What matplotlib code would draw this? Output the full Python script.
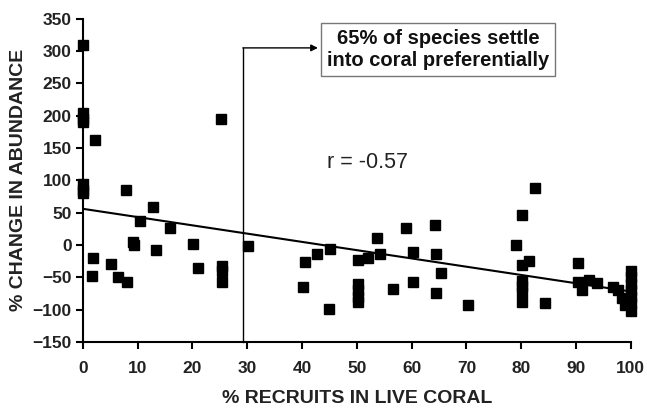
import matplotlib.pyplot as plt

plt.rcParams['font.family'] = ['Liberation Sans', 'DejaVu Sans']

# 数据: % recruits in live coral vs % change in abundance
recruits = [0, 0, 0, 0, 0, 0, 0, 2.2, 1.9, 1.7, 5.1, 6.4, 8.0, 7.8, 9.1, 9.3,
            10.4, 12.8, 13.3, 16.0, 20.1, 21.0, 25.3, 25.4, 25.4, 25.4, 30.1,
            40.1, 40.5, 42.7, 45.1, 45.0, 50.2, 50.2, 50.2, 50.2, 50.2, 52.0,
            53.7, 54.2, 56.6, 59.0, 60.2, 60.2, 64.2, 64.4, 65.3, 64.4, 70.2,
            79.0, 80.1, 80.1, 81.4, 82.5, 80.1, 80.1, 80.1, 80.1, 84.3,
            90.3, 90.3, 91.0, 92.4, 93.8, 96.7, 97.6, 98.4, 99.0,
            100, 100, 100, 100, 100, 100, 100]
change = [310, 205, 195, 190, 95, 85, 80, 162, -20, -48, -30, -49, -58, 85, 5, 0,
          37, 59, -8, 26, 2, -36, 195, -32, -40, -58, -2,
          -65, -26, -14, -6, -99, -23, -60, -70, -80, -88, -20,
          11, -14, -68, 26, -11, -57, 31, -14, -43, -74, -93,
          0, 46, -31, -25, 88, -55, -64, -72, -88, -90,
          -28, -57, -70, -54, -59, -65, -70, -82, -93,
          -40, -50, -60, -70, -80, -90, -102]

# 回归线
line_x = [0, 100]
line_y = [56, -72]

fig = plt.figure(figsize=(6.47, 4.09), dpi=100)
ax = fig.add_axes([0.128, 0.164, 0.847, 0.79])

ax.plot(recruits, change, 's', color='black', ms=6.5, clip_on=False, zorder=3)
ax.plot(line_x, line_y, color='black', lw=1.5)

ax.set_xlim(0, 100)
ax.set_ylim(-150, 350)
ax.set_xticks(range(0, 101, 10))
ax.set_yticks(range(-150, 351, 50))
for s in ['top', 'right']:
    ax.spines[s].set_visible(False)
for s in ['left', 'bottom']:
    ax.spines[s].set_linewidth(1.5)
ax.tick_params(axis='both', direction='out', length=5, width=1.5, labelsize=12.5)
ax.tick_params(axis='x', pad=9)
ax.tick_params(axis='y', pad=3)
for lab in ax.get_xticklabels() + ax.get_yticklabels():
    lab.set_fontweight('bold')
    lab.set_color('#222222')

ax.set_xlabel('% RECRUITS IN LIVE CORAL', fontsize=14, fontweight='bold',
              color='#222222', labelpad=10)
ax.set_ylabel('% CHANGE IN ABUNDANCE', fontsize=14, fontweight='bold',
              color='#222222', labelpad=4)

# 65% 标注
ax.plot([29.3, 29.3], [-150, 305], color='black', lw=1, clip_on=False)
ax.annotate('', xy=(42.9, 305), xytext=(29.2, 305),
            arrowprops=dict(arrowstyle='-|>', lw=1, color='black',
                            mutation_scale=10, shrinkA=0, shrinkB=0),
            annotation_clip=False)
ax.text(64.8, 302, '65% of species settle\ninto coral preferentially',
        ha='center', va='center', fontsize=14.5, fontweight='bold',
        color='#111111', linespacing=1.2,
        bbox=dict(boxstyle='square,pad=0.3', fc='white', ec='#777777', lw=1))

ax.text(44.5, 128, 'r = -0.57', ha='left', va='center', fontsize=15.5,
        color='#222222')

fig.savefig('out.png', dpi=100)
